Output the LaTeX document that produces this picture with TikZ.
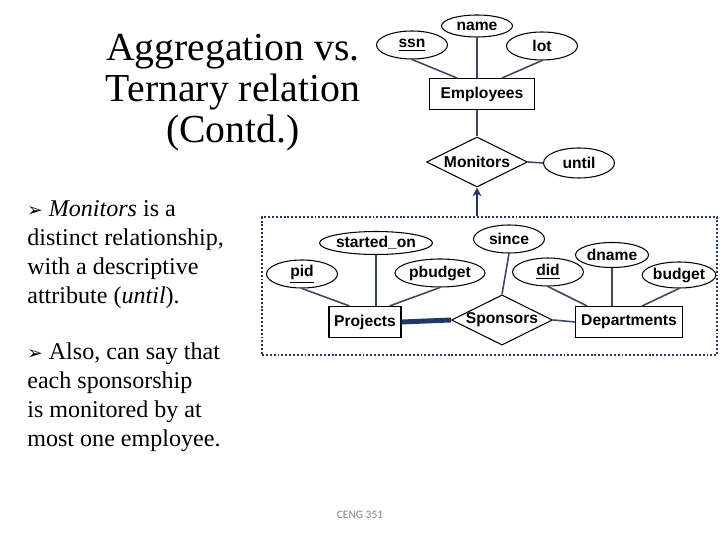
\documentclass[tikz,border=0pt]{standalone}
\usepackage{fontspec}
\setmainfont{Liberation Serif}
\setsansfont{Liberation Sans}
\newfontfamily\symfont{DejaVu Sans}
\newfontfamily\footfont{Carlito}
\usetikzlibrary{shapes.geometric,arrows.meta}

\definecolor{erline}{RGB}{60,72,96}
\definecolor{erthick}{RGB}{31,56,100}

\begin{document}
\begin{tikzpicture}[
    x=0.02cm, y=-0.02cm,
    every node/.style={font=\sffamily\bfseries\fontsize{8.9}{10}\selectfont},
    attr/.style={ellipse, draw, line width=0.6pt, inner sep=0pt,
                 minimum width=1.42cm, minimum height=0.56cm},
    entity/.style={rectangle, draw, line width=0.6pt, inner sep=0pt, minimum height=0.62cm},
    rel/.style={diamond, aspect=2, draw, line width=0.6pt, inner sep=0pt,
                minimum width=2.02cm, minimum height=1cm},
    link/.style={draw=erline, line width=0.9pt},
    bullettext/.style={anchor=north west, align=left, inner sep=0pt,
                       font=\fontsize{13.7}{16.5}\selectfont},
]
\useasboundingbox (0,0) rectangle (720,540);

% Title and side text
\node[align=center, font=\fontsize{22.6}{23.3}\selectfont] (title) at (233,93)
    {Aggregation vs.\\Ternary relation\\(Contd.)};
\node[bullettext] (b1) at (27,200)
    {{\symfont\fontsize{10.5}{10}\selectfont ➢} \textit{Monitors} is a\\
     distinct relationship,\\with a descriptive\\attribute (\textit{until}).};
\node[bullettext] (b2) at (27,342)
    {{\symfont\fontsize{10.5}{10}\selectfont ➢} Also, can say that\\
     each sponsorship\\is monitored by at\\most one employee.};

% Aggregation box (drawn first, behind)
\node[draw=erthick, dash pattern=on 1.1pt off 1.1pt, line width=1.1pt,
      minimum width=9.1cm, minimum height=2.76cm] (agg) at (489.5,286) {};

% Employees and Monitors
\node[attr] (ssn) at (412,45) {\underline{ssn}};
\node[attr, minimum height=0.44cm] (name) at (477,26) {name};
\node[attr] (lot) at (542,46) {lot};
\node[entity, minimum width=2.1cm] (emp) at (482,94) {Employees};
\node[rel] (mon) at (477,162) {Monitors};
\node[attr, minimum height=0.6cm] (until) at (579,163) {until};

\draw[link] (ssn.south) -- ([xshift=0.56cm]emp.north west);
\draw[link] (name.south) -- (name.south |- emp.north);
\draw[link] (lot.south) -- ([xshift=-0.66cm]emp.north east);
\draw[link] (mon.north |- emp.south) -- (mon.north);
\draw[link] (mon.east) -- (until.west);

% Projects, Sponsors, Departments
\node[attr, minimum width=1.86cm, minimum height=0.46cm] (started) at (376,243) {started\_on};
\node[attr] (pid) at (302,274) {\underline{pid}};
\node[attr, minimum width=1.8cm] (pbudget) at (440,273) {pbudget};
\node[attr] (since) at (509,239) {since};
\node[attr] (did) at (548,272) {\underline{did}};
\node[attr, minimum width=1.46cm, minimum height=0.5cm] (dname) at (612,255) {dname};
\node[attr, minimum height=0.52cm] (budget) at (679,275) {budget};

\node[entity, minimum width=1.44cm] (proj) at (365,322) {Projects};
\node[rel] (spo) at (502,320) {Sponsors};
\node[entity, minimum width=2.14cm] (dept) at (629,322) {Departments};

\draw[link] (pid.south) -- ([xshift=0.42cm]proj.north west);
\draw[link, line width=1.5pt] (started.south) -- (started.south |- proj.north);
\draw[link] (pbudget.south) -- ([xshift=-0.24cm]proj.north east);
\draw[link] (since.south) -- (spo.north);
\draw[link] (did.south) -- ([xshift=0.24cm]dept.north west);
\draw[link] (dname.south) -- (dname.south |- dept.north);
\draw[link] (budget.south) -- ([xshift=-0.82cm]dept.north east);

\draw[draw=erthick, line width=2.8pt] (proj.east) -- (spo.west);
\draw[link] (spo.east) -- (dept.west);

% Monitors relates the aggregation
\draw[draw=erthick, line width=1.5pt, -{Stealth[length=5pt,width=5pt]}]
    (mon.south |- agg.north) -- (mon.south);

% Footer
\node[font=\footfont\fontsize{6.5}{7}\selectfont, text=gray] (foot) at (360,515) {CENG 351};
\end{tikzpicture}
\end{document}
